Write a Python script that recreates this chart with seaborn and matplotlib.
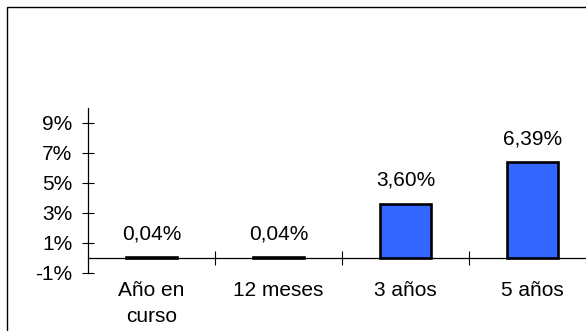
import matplotlib
matplotlib.use("Agg")
import matplotlib.pyplot as plt
from matplotlib.patches import Rectangle
import seaborn as sns
import pandas as pd

# Returns by period (percent)
periods = ["Año en\ncurso", "12 meses", "3 años", "5 años"]
returns = [0.04, 0.04, 3.60, 6.39]
value_labels = ["0,04%", "0,04%", "3,60%", "6,39%"]
y_ticks = [-1, 1, 3, 5, 7, 9]
y_tick_labels = ["-1%", "1%", "3%", "5%", "7%", "9%"]

sns.set_theme(style="white")
plt.rcParams["font.family"] = ["Liberation Sans", "DejaVu Sans"]

W, H = 586, 331
fig = plt.figure(figsize=(W / 100, H / 100), dpi=100)
fig.patch.set_facecolor("white")

# Frame around the chart area (runs off the right and bottom edges)
fig.patches.append(Rectangle((7 / W, -0.1), 1.2, 1 - 7 / H + 0.1,
                             transform=fig.transFigure, fill=False,
                             edgecolor="black", linewidth=1.0, zorder=0))

ax = fig.add_axes([88 / W, (H - 273) / H, (596 - 88) / W, (273 - 108) / H])
ax.set_facecolor("none")

df = pd.DataFrame({"period": periods, "ret": returns})
sns.barplot(data=df, x="period", y="ret", color="#3366FF", saturation=1,
            width=0.4, edgecolor="black", linewidth=1.9, ax=ax, zorder=3)

ax.set_xlim(-0.5, 3.5)
ax.set_ylim(-1, 10)
ax.set_xlabel("")
ax.set_ylabel("")

fs = 15
ax.set_yticks(y_ticks)
ax.set_yticklabels(y_tick_labels, fontsize=fs, color="black")
ax.tick_params(axis="y", which="major", direction="inout", length=8.6,
               width=0.8, color="black", pad=7.0, left=True)

# Category axis sits on the zero line, with ticks between categories
for side in ["top", "right"]:
    ax.spines[side].set_visible(False)
ax.spines["left"].set_color("black")
ax.spines["left"].set_linewidth(0.9)
ax.spines["bottom"].set_position(("data", 0))
ax.spines["bottom"].set_color("black")
ax.spines["bottom"].set_linewidth(0.9)
ax.spines["bottom"].set_zorder(2)

ax.set_xticks(range(len(periods)))
ax.set_xticklabels(periods, fontsize=fs, color="black", linespacing=1.5)
ax.set_xticks([0.5, 1.5, 2.5, 3.5], minor=True)
ax.tick_params(axis="x", which="major", length=0, pad=16.5, bottom=True)
ax.tick_params(axis="x", which="minor", direction="inout", length=9.5,
               width=0.8, color="black", bottom=True)

for i, (v, lab) in enumerate(zip(returns, value_labels)):
    ax.annotate(lab, xy=(i, v), xytext=(0, 13.0), textcoords="offset points",
                ha="center", va="baseline", fontsize=fs, color="black",
                annotation_clip=False)

fig.savefig("out.png", dpi=100, facecolor="white")
